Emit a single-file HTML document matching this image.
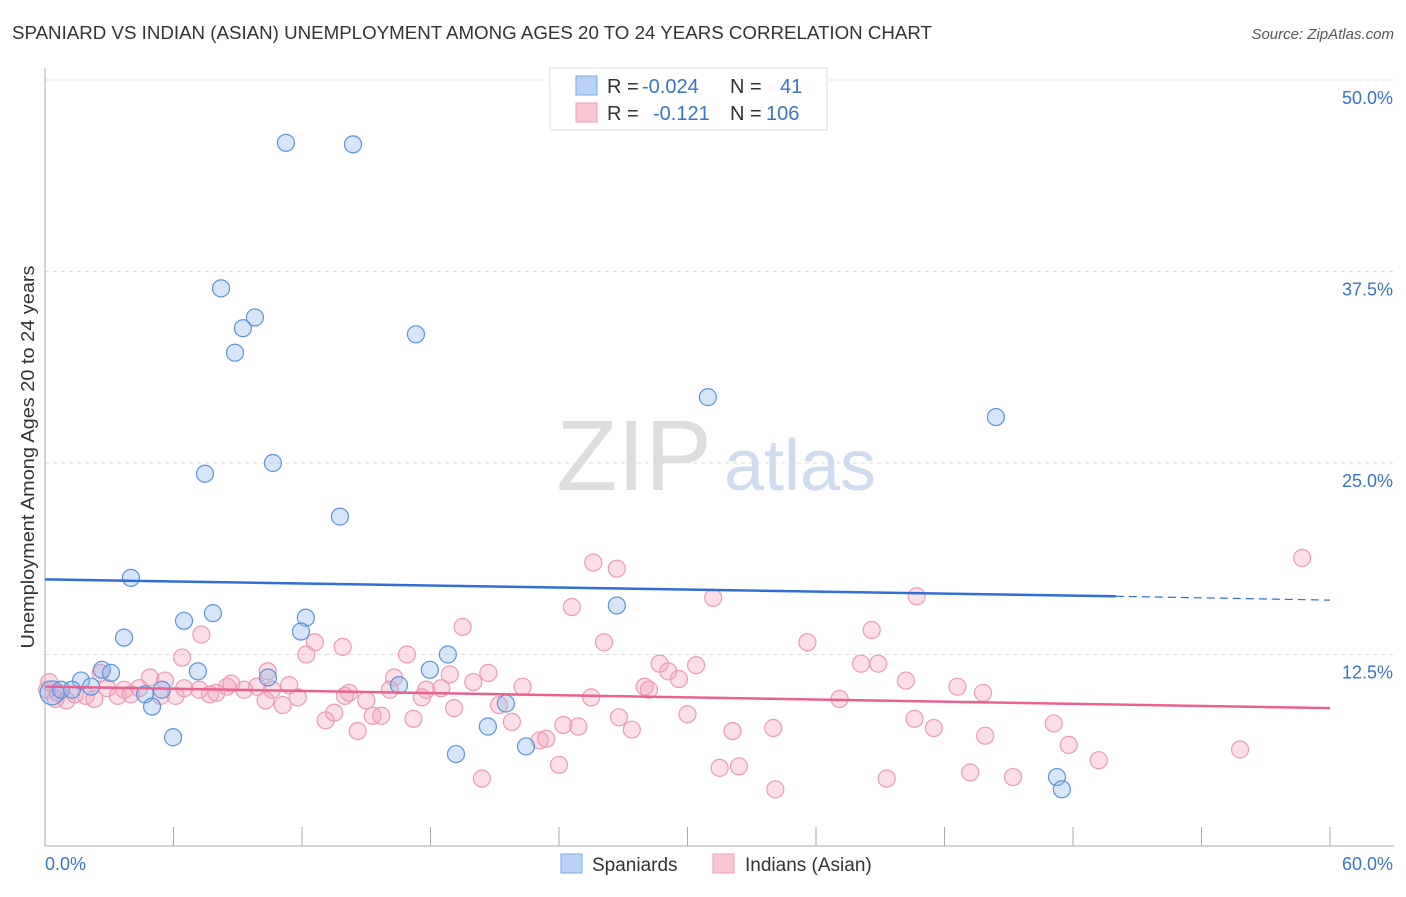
<!DOCTYPE html>
<html><head><meta charset="utf-8"><style>
body{margin:0;background:#fff;font-family:"Liberation Sans",sans-serif}
svg text{font-family:"Liberation Sans",sans-serif}
</style></head><body>
<svg id="chart" width="1406" height="892">
<text x="12" y="39" font-size="18" fill="#333" textLength="920" lengthAdjust="spacingAndGlyphs">SPANIARD VS INDIAN (ASIAN) UNEMPLOYMENT AMONG AGES 20 TO 24 YEARS CORRELATION CHART</text>
<text x="1394" y="39" font-size="15" fill="#555" font-style="italic" text-anchor="end">Source: ZipAtlas.com</text>
<g id="grid"></g>
<text x="634" y="490" font-size="100" fill="#ddd" font-family="Liberation Serif" text-anchor="middle">ZIP</text>
<text x="800" y="490" font-size="72" fill="#cfdcef" text-anchor="middle">atlas</text>
<g id="axes"></g>
<g id="pts"></g>
<g id="trend"></g>
<text transform="translate(34,457) rotate(-90)" font-size="18" fill="#333" text-anchor="middle" textLength="383" lengthAdjust="spacingAndGlyphs">Unemployment Among Ages 20 to 24 years</text>
<g>
<rect x="550" y="68" width="277" height="62" fill="#fff" stroke="#ddd"/>
<rect x="576" y="76" width="21" height="19" fill="#b8d3f5" stroke="#7eaae8"/>
<rect x="576" y="103" width="21" height="19" fill="#f9c6d4" stroke="#ee9db5"/>
<text y="93" font-size="20"><tspan x="607" fill="#333">R = </tspan><tspan x="642" fill="#3a73cc">-0.024</tspan><tspan x="730" fill="#333">N = </tspan><tspan x="780" fill="#3a73cc">41</tspan></text>
<text y="120" font-size="20"><tspan x="607" fill="#333">R = </tspan><tspan x="653" fill="#3a73cc">-0.121</tspan><tspan x="730" fill="#333">N = </tspan><tspan x="766" fill="#3a73cc">106</tspan></text>
</g>
<g>
<rect x="561" y="854" width="21" height="19" fill="#b8d3f5" stroke="#7eaae8"/>
<text x="592" y="871" font-size="19" fill="#333">Spaniards</text>
<rect x="713" y="854" width="21" height="19" fill="#f9c6d4" stroke="#ee9db5"/>
<text x="745" y="871" font-size="19" fill="#333">Indians (Asian)</text>
</g>
</svg>
<script>
const yTicks=[12.5,25,37.5,50];
const yTickLabels=["12.5%","25.0%","37.5%","50.0%"];
const xTickCount=10;
const xTickLabels=["0.0%","60.0%"];
const blueX=[11.25,14.38,8.22,9.8,9.24,8.87,17.32,30.95,44.4,10.64,7.47,13.77,4.01,26.7,7.84,6.49,12.18,11.95,3.69,18.81,2.66,3.08,7.14,17.97,1.68,10.41,2.15,16.53,5.46,0.33,0.75,1.26,4.67,21.52,5.0,20.68,22.46,5.98,19.19,47.25,47.48];
const blueY=[45.9,45.8,36.4,34.5,33.8,32.2,33.4,29.3,28.0,25.0,24.3,21.5,17.5,15.7,15.2,14.7,14.9,14.0,13.6,12.5,11.5,11.3,11.4,11.5,10.8,11.0,10.4,10.5,10.2,10.0,10.2,10.2,9.9,9.3,9.1,7.8,6.5,7.1,6.0,4.5,3.7];
const pinkX=[58.7,25.6,26.7,31.2,40.7,24.6,19.5,38.6,7.3,26.1,35.6,12.6,13.9,16.9,12.2,6.4,38.1,38.9,28.7,30.4,29.1,10.4,20.7,18.9,16.3,29.6,40.2,2.6,4.9,5.6,8.5,8.7,9.9,11.4,14.2,16.1,17.8,18.5,20.0,22.3,28.0,28.2,42.6,43.8,2.9,3.7,4.4,6.5,7.7,8.0,9.3,10.6,11.8,15.0,17.6,25.5,37.1,0.2,0.5,1.0,1.9,3.4,5.4,6.1,11.1,19.1,21.2,30.0,13.5,13.1,15.3,15.7,17.2,21.8,24.2,24.9,26.8,27.4,32.1,34.0,40.6,41.5,47.1,14.6,23.1,23.4,43.9,47.8,24.0,55.8,49.2,31.5,32.4,43.2,45.2,20.4,39.3,34.1,0.1,0.6,1.4,2.3,4.0,7.2,10.3,14.0];
const pinkY=[18.8,18.5,18.1,16.2,16.3,15.6,14.3,14.1,13.8,13.3,13.3,13.3,13.0,12.5,12.5,12.3,11.9,11.9,11.9,11.8,11.4,11.4,11.3,11.2,11.0,10.9,10.8,11.3,11.0,10.8,10.4,10.6,10.4,10.5,10.0,10.2,10.2,10.3,10.7,10.4,10.4,10.2,10.4,10.0,10.3,10.2,10.3,10.3,9.9,10.0,10.2,10.2,9.7,9.5,9.7,9.7,9.6,10.7,9.6,9.5,9.8,9.8,9.8,9.8,9.2,9.0,9.2,8.6,8.7,8.2,8.5,8.5,8.3,8.1,7.9,7.8,8.4,7.6,7.5,7.7,8.3,7.7,8.0,7.5,6.9,7.0,7.2,6.6,5.3,6.3,5.6,5.1,5.2,4.8,4.5,4.4,4.4,3.7,10.2,10.0,9.9,9.6,9.9,10.2,9.5,9.8];
const blueTrend=[[0,17.4],[50,16.3],[60,16.05]];
const pinkTrend=[[0,10.4],[60,9.0]];
const NS="http://www.w3.org/2000/svg";
const X=v=>45+v*1285/60, Y=v=>846-v*766/50;
function mk(t,a,p){const e=document.createElementNS(NS,t);for(const k in a)e.setAttribute(k,a[k]);p.appendChild(e);return e;}
const grid=document.getElementById('grid'),axes=document.getElementById('axes'),pts=document.getElementById('pts'),tr=document.getElementById('trend');
yTicks.forEach((v,i)=>{
 const l=mk('line',{x1:45,x2:1394,y1:Y(v),y2:Y(v),stroke:'#ddd','stroke-dasharray':'4,4'},grid);
 
 
 const t=mk('text',{x:1393,y:Y(v)+24,'font-size':18,fill:'#3a73cc','text-anchor':'end'},axes);
 t.textContent=yTickLabels[i];
 
 
});
const la=mk('line',{x1:45,x2:45,y1:68,y2:846,stroke:'#aaa'},axes);


const ba=mk('line',{x1:45,x2:1394,y1:846,y2:846,stroke:'#aaa'},axes);


for(let i=0;i<=xTickCount;i++){const x=X(i*60/xTickCount);
 const t=mk('line',{x1:x,x2:x,y1:827,y2:846,stroke:'#aaa'},axes);
 
 }
const t0=mk('text',{x:45,y:870,'font-size':18,fill:'#3a73cc'},axes);t0.textContent=xTickLabels[0];


const t1=mk('text',{x:1393,y:870,'font-size':18,fill:'#3a73cc','text-anchor':'end'},axes);t1.textContent=xTickLabels[1];


pinkX.forEach((v,i)=>{const c=mk('circle',{cx:X(v),cy:Y(pinkY[i]),r:8.5,fill:'rgba(244,160,185,0.35)',stroke:'#ee9ab3','stroke-width':1.2},pts);
 
 });
blueX.forEach((v,i)=>{const c=mk('circle',{cx:X(v),cy:Y(blueY[i]),r:i==29?12:8.5,fill:'rgba(140,180,235,0.35)',stroke:'#5b93dd','stroke-width':1.2},pts);
 
 });
const b1=mk('line',{x1:X(blueTrend[0][0]),y1:Y(blueTrend[0][1]),x2:X(blueTrend[1][0]),y2:Y(blueTrend[1][1]),stroke:'#2f6fd6','stroke-width':2.5},tr);


const b2=mk('line',{x1:X(blueTrend[1][0]),y1:Y(blueTrend[1][1]),x2:X(blueTrend[2][0]),y2:Y(blueTrend[2][1]),stroke:'#2f6fd6','stroke-width':1.2,'stroke-dasharray':'8,5'},tr);


const p1=mk('line',{x1:X(pinkTrend[0][0]),y1:Y(pinkTrend[0][1]),x2:X(pinkTrend[1][0]),y2:Y(pinkTrend[1][1]),stroke:'#e8628f','stroke-width':2.5},tr);


</script>
</body></html>
